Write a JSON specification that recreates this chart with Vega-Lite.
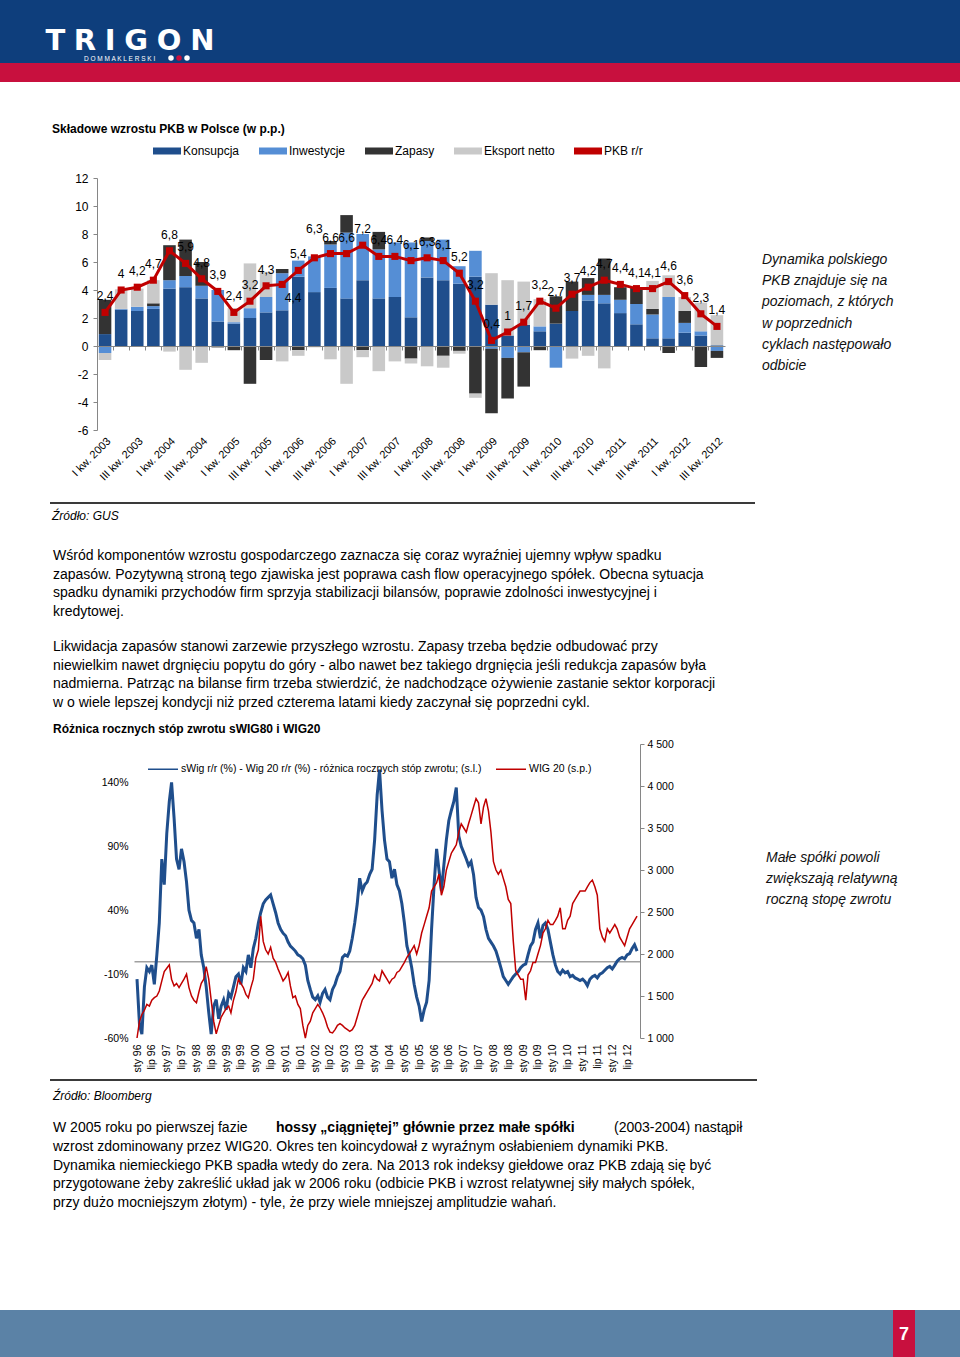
{
  "$schema": "https://vega.github.io/schema/vega-lite/v6.json",
  "background": "white",
  "padding": 0,
  "spacing": 0,
  "bounds": "flush",
  "resolve": {"scale": {"color": "independent", "x": "independent", "y": "independent"}, "legend": {"color": "independent"}},
  "config": {
    "view": {"stroke": null},
    "font": "Liberation Sans",
    "concat": {"spacing": 0},
    "locale": {"number": {"decimal": ",", "thousands": " ", "grouping": [3], "currency": ["", ""], "minus": "-"}},
    "axis": {"labelFont": "Liberation Sans", "labelColor": "#000000", "grid": false, "labelOverlap": false},
    "legend": {"labelFont": "Liberation Sans", "labelColor": "#000000", "padding": 0},
    "text": {"font": "Liberation Sans", "color": "#000000"}
  },
  "vconcat": [
    {
      "width": 960, "height": 63,
      "view": {"fill": "#0e3e7c", "stroke": null},
      "data": {"values": [{}]},
      "layer": [
        {"mark": {"type": "text", "text": "T", "x": 55.3, "y": 50, "fontSize": 29, "font": "DejaVu Sans", "fontWeight": "bold", "color": "#ffffff", "align": "center", "baseline": "alphabetic"}},
        {"mark": {"type": "text", "text": "R", "x": 85, "y": 50, "fontSize": 29, "font": "DejaVu Sans", "fontWeight": "bold", "color": "#ffffff", "align": "center", "baseline": "alphabetic"}},
        {"mark": {"type": "text", "text": "I", "x": 110.2, "y": 50, "fontSize": 29, "font": "DejaVu Sans", "fontWeight": "bold", "color": "#ffffff", "align": "center", "baseline": "alphabetic"}},
        {"mark": {"type": "text", "text": "G", "x": 136.1, "y": 50, "fontSize": 29, "font": "DejaVu Sans", "fontWeight": "bold", "color": "#ffffff", "align": "center", "baseline": "alphabetic"}},
        {"mark": {"type": "text", "text": "O", "x": 169.2, "y": 50, "fontSize": 29, "font": "DejaVu Sans", "fontWeight": "bold", "color": "#ffffff", "align": "center", "baseline": "alphabetic"}},
        {"mark": {"type": "text", "text": "N", "x": 202.5, "y": 50, "fontSize": 29, "font": "DejaVu Sans", "fontWeight": "bold", "color": "#ffffff", "align": "center", "baseline": "alphabetic"}},
        {"mark": {"type": "text", "text": "D O M   M A K L E R S K I", "x": 84, "y": 59, "fontSize": 6.5, "color": "#ffffff", "align": "left", "baseline": "middle"}},
        {"mark": {"type": "point", "shape": "circle", "filled": true, "size": 30, "opacity": 1, "x": 171, "y": 58, "color": "#ffffff"}, "encoding": {}},
        {"mark": {"type": "point", "shape": "circle", "filled": true, "size": 30, "opacity": 1, "x": 179, "y": 58, "color": "#c8103e"}, "encoding": {}},
        {"mark": {"type": "point", "shape": "circle", "filled": true, "size": 30, "opacity": 1, "x": 187, "y": 58, "color": "#ffffff"}, "encoding": {}}
      ]
    },
    {
      "width": 960, "height": 19,
      "view": {"fill": "#c8103e", "stroke": null},
      "data": {"values": []},
      "mark": "point"
    },
    {
      "width": 960, "height": 96,
      "data": {"values": [{"t": "Składowe wzrostu PKB w Polsce (w p.p.)"}]},
      "mark": {"type": "text", "align": "left", "baseline": "middle", "fontSize": 12, "fontWeight": "bold"},
      "encoding": {"x": {"value": 52}, "y": {"value": 47}, "text": {"field": "t", "type": "nominal"}}
    },
    {
      "width": 960, "height": 252,
      "layer": [
        {
          "data": {"values": [
            {"q": "I kw. 2003", "Konsupcja": 0.85, "Inwestycje": -0.5, "Zapasy": 2.45, "Eksport netto": -0.5, "PKB": 2.4},
            {"q": "II kw. 2003", "Konsupcja": 2.6, "Inwestycje": 0.05, "Zapasy": -0.05, "Eksport netto": 1.4, "PKB": 4.0},
            {"q": "III kw. 2003", "Konsupcja": 2.5, "Inwestycje": 0.3, "Zapasy": -0.05, "Eksport netto": 1.3, "PKB": 4.2},
            {"q": "IV kw. 2003", "Konsupcja": 2.65, "Inwestycje": 0.2, "Zapasy": 0.2, "Eksport netto": 1.65, "PKB": 4.7},
            {"q": "I kw. 2004", "Konsupcja": 4.1, "Inwestycje": 0.6, "Zapasy": 2.5, "Eksport netto": -0.4, "PKB": 6.8},
            {"q": "II kw. 2004", "Konsupcja": 4.2, "Inwestycje": 0.8, "Zapasy": 2.6, "Eksport netto": -1.7, "PKB": 5.9},
            {"q": "III kw. 2004", "Konsupcja": 3.4, "Inwestycje": 0.9, "Zapasy": 1.7, "Eksport netto": -1.2, "PKB": 4.8},
            {"q": "IV kw. 2004", "Konsupcja": 1.75, "Inwestycje": 2.25, "Zapasy": -0.1, "Eksport netto": 0, "PKB": 3.9},
            {"q": "I kw. 2005", "Konsupcja": 1.6, "Inwestycje": 0.1, "Zapasy": -0.3, "Eksport netto": 1.0, "PKB": 2.4},
            {"q": "II kw. 2005", "Konsupcja": 2.0, "Inwestycje": 0.7, "Zapasy": -2.7, "Eksport netto": 3.2, "PKB": 3.2},
            {"q": "III kw. 2005", "Konsupcja": 2.4, "Inwestycje": 1.1, "Zapasy": -1.0, "Eksport netto": 1.8, "PKB": 4.3},
            {"q": "IV kw. 2005", "Konsupcja": 2.55, "Inwestycje": 2.65, "Zapasy": 0.3, "Eksport netto": -1.1, "PKB": 4.4},
            {"q": "I kw. 2006", "Konsupcja": 4.95, "Inwestycje": 1.15, "Zapasy": -0.3, "Eksport netto": -0.4, "PKB": 5.4},
            {"q": "II kw. 2006", "Konsupcja": 3.85, "Inwestycje": 2.55, "Zapasy": 0, "Eksport netto": -0.1, "PKB": 6.3},
            {"q": "III kw. 2006", "Konsupcja": 4.15, "Inwestycje": 3.1, "Zapasy": 0.25, "Eksport netto": -0.95, "PKB": 6.6},
            {"q": "IV kw. 2006", "Konsupcja": 3.4, "Inwestycje": 4.7, "Zapasy": 1.25, "Eksport netto": -2.7, "PKB": 6.6},
            {"q": "I kw. 2007", "Konsupcja": 4.7, "Inwestycje": 3.3, "Zapasy": -0.3, "Eksport netto": -0.5, "PKB": 7.2},
            {"q": "II kw. 2007", "Konsupcja": 3.4, "Inwestycje": 3.5, "Zapasy": 1.25, "Eksport netto": -1.8, "PKB": 6.4},
            {"q": "III kw. 2007", "Konsupcja": 3.5, "Inwestycje": 3.9, "Zapasy": 0, "Eksport netto": -1.1, "PKB": 6.4},
            {"q": "IV kw. 2007", "Konsupcja": 2.05, "Inwestycje": 5.35, "Zapasy": -0.9, "Eksport netto": -0.35, "PKB": 6.1},
            {"q": "I kw. 2008", "Konsupcja": 4.9, "Inwestycje": 2.6, "Zapasy": 0.25, "Eksport netto": -1.45, "PKB": 6.3},
            {"q": "II kw. 2008", "Konsupcja": 4.7, "Inwestycje": 2.9, "Zapasy": -0.7, "Eksport netto": -0.85, "PKB": 6.1},
            {"q": "III kw. 2008", "Konsupcja": 4.45, "Inwestycje": 1.25, "Zapasy": -0.35, "Eksport netto": -0.2, "PKB": 5.2},
            {"q": "IV kw. 2008", "Konsupcja": 4.95, "Inwestycje": 1.85, "Zapasy": -3.4, "Eksport netto": -0.3, "PKB": 3.2},
            {"q": "I kw. 2009", "Konsupcja": 2.95, "Inwestycje": -0.2, "Zapasy": -4.6, "Eksport netto": 2.25, "PKB": 0.4},
            {"q": "II kw. 2009", "Konsupcja": 0.75, "Inwestycje": -0.85, "Zapasy": -2.9, "Eksport netto": 3.95, "PKB": 1.0},
            {"q": "III kw. 2009", "Konsupcja": 1.5, "Inwestycje": -0.45, "Zapasy": -2.45, "Eksport netto": 3.1, "PKB": 1.7},
            {"q": "IV kw. 2009", "Konsupcja": 1.05, "Inwestycje": 0.35, "Zapasy": -0.3, "Eksport netto": 1.95, "PKB": 3.2},
            {"q": "I kw. 2010", "Konsupcja": 1.6, "Inwestycje": -1.55, "Zapasy": 1.95, "Eksport netto": 0, "PKB": 2.7},
            {"q": "II kw. 2010", "Konsupcja": 2.5, "Inwestycje": 0, "Zapasy": 2.1, "Eksport netto": -0.9, "PKB": 3.7},
            {"q": "III kw. 2010", "Konsupcja": 3.25, "Inwestycje": 0.4, "Zapasy": 1.2, "Eksport netto": -0.7, "PKB": 4.2},
            {"q": "IV kw. 2010", "Konsupcja": 3.05, "Inwestycje": 0.6, "Zapasy": 2.6, "Eksport netto": -1.6, "PKB": 4.7},
            {"q": "I kw. 2011", "Konsupcja": 2.35, "Inwestycje": 0.95, "Zapasy": 0.9, "Eksport netto": 0, "PKB": 4.4},
            {"q": "II kw. 2011", "Konsupcja": 1.55, "Inwestycje": 1.45, "Zapasy": 1.2, "Eksport netto": 0, "PKB": 4.1},
            {"q": "III kw. 2011", "Konsupcja": 0.55, "Inwestycje": 1.7, "Zapasy": 0.4, "Eksport netto": 2.0, "PKB": 4.1},
            {"q": "IV kw. 2011", "Konsupcja": 0.55, "Inwestycje": 2.95, "Zapasy": -0.5, "Eksport netto": 1.55, "PKB": 4.6},
            {"q": "I kw. 2012", "Konsupcja": 0.95, "Inwestycje": 0.7, "Zapasy": 0.85, "Eksport netto": 1.0, "PKB": 3.6},
            {"q": "II kw. 2012", "Konsupcja": 0.75, "Inwestycje": 0.3, "Zapasy": -1.5, "Eksport netto": 2.05, "PKB": 2.3},
            {"q": "III kw. 2012", "Konsupcja": 0.05, "Inwestycje": -0.35, "Zapasy": -0.5, "Eksport netto": 2.15, "PKB": 1.4}
          ]},
          "layer": [
            {
              "transform": [{"fold": ["Konsupcja", "Inwestycje", "Zapasy", "Eksport netto"], "as": ["component", "value"]}],
              "mark": {"type": "bar"},
              "encoding": {
                "x": {"field": "q", "type": "ordinal", "sort": null, "title": null,
                  "scale": {"range": [97, 725], "paddingInner": 0.22, "paddingOuter": 0.11,
                    "domain": ["I kw. 2003","II kw. 2003","III kw. 2003","IV kw. 2003","I kw. 2004","II kw. 2004","III kw. 2004","IV kw. 2004","I kw. 2005","II kw. 2005","III kw. 2005","IV kw. 2005","I kw. 2006","II kw. 2006","III kw. 2006","IV kw. 2006","I kw. 2007","II kw. 2007","III kw. 2007","IV kw. 2007","I kw. 2008","II kw. 2008","III kw. 2008","IV kw. 2008","I kw. 2009","II kw. 2009","III kw. 2009","IV kw. 2009","I kw. 2010","II kw. 2010","III kw. 2010","IV kw. 2010","I kw. 2011","II kw. 2011","III kw. 2011","IV kw. 2011","I kw. 2012","II kw. 2012","III kw. 2012"]},
                  "axis": {"values": ["I kw. 2003","III kw. 2003","I kw. 2004","III kw. 2004","I kw. 2005","III kw. 2005","I kw. 2006","III kw. 2006","I kw. 2007","III kw. 2007","I kw. 2008","III kw. 2008","I kw. 2009","III kw. 2009","I kw. 2010","III kw. 2010","I kw. 2011","III kw. 2011","I kw. 2012","III kw. 2012"],
                    "labelAngle": -45, "labelFontSize": 11, "domain": false, "ticks": false, "labelPadding": 5, "labelOverlap": false}},
                "y": {"field": "value", "type": "quantitative", "stack": "zero", "title": null,
                  "scale": {"domain": [-6, 12], "nice": false},
                  "axis": {"values": [-6, -4, -2, 0, 2, 4, 6, 8, 10, 12], "offset": -97, "labelFontSize": 12, "labelOverlap": false, "labelFlush": false, "domainColor": "#868686", "tickColor": "#868686", "tickSize": 4, "labelPadding": 5}},
                "color": {"field": "component", "type": "nominal",
                  "scale": {"domain": ["Konsupcja", "Inwestycje", "Zapasy", "Eksport netto", "PKB r/r"], "range": ["#1f4e8c", "#558ed5", "#333333", "#c9c9c9", "#c00000"]},
                  "legend": {"orient": "none", "direction": "horizontal", "legendX": 161, "legendY": -33, "title": null,
                    "symbolType": "M-4,-1H4V1H-4Z", "symbolSize": 49, "symbolStrokeWidth": 0, "labelFontSize": 12, "labelOffset": 10, "columnPadding": 19, "labelLimit": 300,
                    "encoding": {"symbols": {"update": {"shape": {"signal": "datum.value === 'PKB r/r' ? 'M-4.6,-0.3H4.6V0.3H-4.6Z M-1,-1H1V1H-1Z' : 'M-4,-1H4V1H-4Z'"}, "strokeWidth": {"value": 0}}}}}},
                "order": {"field": "q", "type": "ordinal"}
              }
            },
            {
              "mark": {"type": "line", "strokeWidth": 3},
              "encoding": {
                "x": {"field": "q", "type": "ordinal", "sort": null, "title": null,
                  "axis": {"orient": "bottom", "offset": -84, "labels": false, "domain": true, "domainColor": "#868686", "ticks": true, "tickSize": 4, "tickColor": "#868686", "bandPosition": -0.14, "zindex": 1}},
                "y": {"field": "PKB", "type": "quantitative", "axis": null},
                "color": {"datum": "PKB r/r"}
              }
            },
            {
              "mark": {"type": "square", "size": 50, "opacity": 1, "color": "#c00000", "filled": true},
              "encoding": {
                "x": {"field": "q", "type": "ordinal", "sort": null, "axis": null},
                "y": {"field": "PKB", "type": "quantitative", "axis": null}
              }
            },
            {
              "transform": [{"filter": "datum.q !== 'IV kw. 2005' && datum.q !== 'II kw. 2006'"}],
              "mark": {"type": "text", "dy": -16, "fontSize": 12, "color": "#000000"},
              "encoding": {
                "x": {"field": "q", "type": "ordinal", "sort": null, "axis": null},
                "y": {"field": "PKB", "type": "quantitative", "axis": null},
                "text": {"field": "PKB", "type": "quantitative", "format": ".2~r"}
              }
            },
            {
              "transform": [{"filter": "datum.q === 'IV kw. 2005'"}],
              "mark": {"type": "text", "dx": 11, "dy": 14, "fontSize": 12, "color": "#000000"},
              "encoding": {
                "x": {"field": "q", "type": "ordinal", "sort": null, "axis": null},
                "y": {"field": "PKB", "type": "quantitative", "axis": null},
                "text": {"field": "PKB", "type": "quantitative", "format": ".2~r"}
              }
            },
            {
              "transform": [{"filter": "datum.q === 'II kw. 2006'"}],
              "mark": {"type": "text", "dy": -29, "fontSize": 12, "color": "#000000"},
              "encoding": {
                "x": {"field": "q", "type": "ordinal", "sort": null, "axis": null},
                "y": {"field": "PKB", "type": "quantitative", "axis": null},
                "text": {"field": "PKB", "type": "quantitative", "format": ".2~r"}
              }
            }
          ],
          "resolve": {"axis": {"x": "independent", "y": "independent"}}
        },
        {
          "data": {"values": [{"lines": ["Dynamika polskiego", "PKB znajduje się na", "poziomach, z których", "w poprzednich", "cyklach następowało", "odbicie"]}]},
          "mark": {"type": "text", "align": "left", "baseline": "top", "fontSize": 14, "fontStyle": "italic", "lineHeight": 21.2, "color": "#111111"},
          "encoding": {"x": {"value": 762}, "y": {"value": 75}, "text": {"field": "lines", "type": "nominal"}}
        }
      ],
      "resolve": {"scale": {"y": "independent", "x": "independent"}}
    },
    {
      "width": 960, "height": 314,
      "layer": [
        {
          "data": {"values": [{}]},
          "mark": {"type": "rule", "color": "#3a3a3a", "strokeWidth": 2},
          "encoding": {"x": {"value": 50}, "x2": {"value": 755}, "y": {"value": 73}}
        },
        {
          "data": {"values": [{"t": "Źródło: GUS"}]},
          "mark": {"type": "text", "align": "left", "baseline": "middle", "fontSize": 12, "fontStyle": "italic"},
          "encoding": {"x": {"value": 52}, "y": {"value": 86}, "text": {"field": "t", "type": "nominal"}}
        },
        {
          "data": {"values": [{"lines": [
            "Wśród komponentów wzrostu gospodarczego zaznacza się coraz wyraźniej ujemny wpływ spadku",
            "zapasów. Pozytywną stroną tego zjawiska jest poprawa cash flow operacyjnego spółek. Obecna sytuacja",
            "spadku dynamiki przychodów firm sprzyja stabilizacji bilansów, poprawie zdolności inwestycyjnej i",
            "kredytowej."]}]},
          "mark": {"type": "text", "align": "left", "baseline": "top", "fontSize": 14, "lineHeight": 18.7},
          "encoding": {"x": {"value": 53}, "y": {"value": 119}, "text": {"field": "lines", "type": "nominal"}}
        },
        {
          "data": {"values": [{"lines": [
            "Likwidacja zapasów stanowi zarzewie przyszłego wzrostu. Zapasy trzeba będzie odbudować przy",
            "niewielkim nawet drgnięciu popytu do góry - albo nawet bez takiego drgnięcia jeśli redukcja zapasów była",
            "nadmierna. Patrząc na bilanse firm trzeba stwierdzić, że nadchodzące ożywienie zastanie sektor korporacji",
            "w o wiele lepszej kondycji niż przed czterema latami kiedy zaczynał się poprzedni cykl."]}]},
          "mark": {"type": "text", "align": "left", "baseline": "top", "fontSize": 14, "lineHeight": 18.7},
          "encoding": {"x": {"value": 53}, "y": {"value": 210}, "text": {"field": "lines", "type": "nominal"}}
        },
        {
          "data": {"values": [{"t": "Różnica rocznych stóp zwrotu sWIG80 i WIG20"}]},
          "mark": {"type": "text", "align": "left", "baseline": "middle", "fontSize": 12, "fontWeight": "bold"},
          "encoding": {"x": {"value": 53}, "y": {"value": 299}, "text": {"field": "t", "type": "nominal"}}
        }
      ]
    },
    {
      "width": 960, "height": 294,
      "layer": [
        {
          "data": {"values": [
            {"date":"1996-01-01","diff":-14,"wig20":1000},{"date":"1996-02-01","diff":-50,"wig20":1200},{"date":"1996-03-01","diff":-57,"wig20":1280},{"date":"1996-04-01","diff":-20,"wig20":1330},{"date":"1996-05-01","diff":-5,"wig20":1400},{"date":"1996-06-01","diff":-8,"wig20":1380},
            {"date":"1996-07-01","diff":-3,"wig20":1450},{"date":"1996-08-01","diff":-18,"wig20":1480},{"date":"1996-09-01","diff":5,"wig20":1500},{"date":"1996-10-01","diff":30,"wig20":1560},{"date":"1996-11-01","diff":80,"wig20":1680},{"date":"1996-12-01","diff":60,"wig20":1790},
            {"date":"1997-01-01","diff":100,"wig20":1830},{"date":"1997-02-01","diff":125,"wig20":1870},{"date":"1997-03-01","diff":140,"wig20":1700},{"date":"1997-04-01","diff":112,"wig20":1620},{"date":"1997-05-01","diff":80,"wig20":1650},{"date":"1997-06-01","diff":72,"wig20":1600},
            {"date":"1997-07-01","diff":88,"wig20":1650},{"date":"1997-08-01","diff":78,"wig20":1700},{"date":"1997-09-01","diff":62,"wig20":1760},{"date":"1997-10-01","diff":40,"wig20":1600},{"date":"1997-11-01","diff":32,"wig20":1500},{"date":"1997-12-01","diff":30,"wig20":1450},
            {"date":"1998-01-01","diff":18,"wig20":1420},{"date":"1998-02-01","diff":25,"wig20":1550},{"date":"1998-03-01","diff":5,"wig20":1650},{"date":"1998-04-01","diff":-5,"wig20":1700},{"date":"1998-05-01","diff":-20,"wig20":1850},{"date":"1998-06-01","diff":-40,"wig20":1700},
            {"date":"1998-07-01","diff":-57,"wig20":1450},{"date":"1998-08-01","diff":-35,"wig20":1200},{"date":"1998-09-01","diff":-30,"wig20":1050},{"date":"1998-10-01","diff":-45,"wig20":1150},{"date":"1998-11-01","diff":-35,"wig20":1250},{"date":"1998-12-01","diff":-30,"wig20":1300},
            {"date":"1999-01-01","diff":-38,"wig20":1350},{"date":"1999-02-01","diff":-25,"wig20":1380},{"date":"1999-03-01","diff":-28,"wig20":1300},{"date":"1999-04-01","diff":-20,"wig20":1450},{"date":"1999-05-01","diff":-12,"wig20":1550},{"date":"1999-06-01","diff":-10,"wig20":1700},
            {"date":"1999-07-01","diff":-18,"wig20":1650},{"date":"1999-08-01","diff":-5,"wig20":1600},{"date":"1999-09-01","diff":-8,"wig20":1520},{"date":"1999-10-01","diff":5,"wig20":1480},{"date":"1999-11-01","diff":-5,"wig20":1600},{"date":"1999-12-01","diff":10,"wig20":1700},
            {"date":"2000-01-01","diff":18,"wig20":1950},{"date":"2000-02-01","diff":30,"wig20":2050},{"date":"2000-03-01","diff":38,"wig20":2450},{"date":"2000-04-01","diff":45,"wig20":2150},{"date":"2000-05-01","diff":48,"wig20":2050},{"date":"2000-06-01","diff":50,"wig20":2000},
            {"date":"2000-07-01","diff":52,"wig20":2080},{"date":"2000-08-01","diff":45,"wig20":1950},{"date":"2000-09-01","diff":38,"wig20":1900},{"date":"2000-10-01","diff":30,"wig20":1820},{"date":"2000-11-01","diff":25,"wig20":1750},{"date":"2000-12-01","diff":22,"wig20":1680},
            {"date":"2001-01-01","diff":20,"wig20":1720},{"date":"2001-02-01","diff":15,"wig20":1780},{"date":"2001-03-01","diff":12,"wig20":1620},{"date":"2001-04-01","diff":10,"wig20":1480},{"date":"2001-05-01","diff":8,"wig20":1500},{"date":"2001-06-01","diff":5,"wig20":1400},
            {"date":"2001-07-01","diff":4,"wig20":1350},{"date":"2001-08-01","diff":2,"wig20":1150},{"date":"2001-09-01","diff":-3,"wig20":1000},{"date":"2001-10-01","diff":-15,"wig20":1150},{"date":"2001-11-01","diff":-22,"wig20":1200},{"date":"2001-12-01","diff":-28,"wig20":1300},
            {"date":"2002-01-01","diff":-30,"wig20":1350},{"date":"2002-02-01","diff":-27,"wig20":1400},{"date":"2002-03-01","diff":-32,"wig20":1360},{"date":"2002-04-01","diff":-25,"wig20":1300},{"date":"2002-05-01","diff":-22,"wig20":1230},{"date":"2002-06-01","diff":-28,"wig20":1130},
            {"date":"2002-07-01","diff":-30,"wig20":1070},{"date":"2002-08-01","diff":-22,"wig20":1060},{"date":"2002-09-01","diff":-18,"wig20":1100},{"date":"2002-10-01","diff":-12,"wig20":1150},{"date":"2002-11-01","diff":-8,"wig20":1170},{"date":"2002-12-01","diff":3,"wig20":1150},
            {"date":"2003-01-01","diff":5,"wig20":1120},{"date":"2003-02-01","diff":4,"wig20":1100},{"date":"2003-03-01","diff":8,"wig20":1080},{"date":"2003-04-01","diff":18,"wig20":1100},{"date":"2003-05-01","diff":30,"wig20":1150},{"date":"2003-06-01","diff":45,"wig20":1250},
            {"date":"2003-07-01","diff":65,"wig20":1350},{"date":"2003-08-01","diff":55,"wig20":1450},{"date":"2003-09-01","diff":60,"wig20":1500},{"date":"2003-10-01","diff":62,"wig20":1550},{"date":"2003-11-01","diff":68,"wig20":1600},{"date":"2003-12-01","diff":72,"wig20":1650},
            {"date":"2004-01-01","diff":95,"wig20":1750},{"date":"2004-02-01","diff":130,"wig20":1700},{"date":"2004-03-01","diff":150,"wig20":1680},{"date":"2004-04-01","diff":118,"wig20":1800},{"date":"2004-05-01","diff":95,"wig20":1750},{"date":"2004-06-01","diff":80,"wig20":1700},
            {"date":"2004-07-01","diff":78,"wig20":1650},{"date":"2004-08-01","diff":65,"wig20":1700},{"date":"2004-09-01","diff":72,"wig20":1720},{"date":"2004-10-01","diff":60,"wig20":1780},{"date":"2004-11-01","diff":55,"wig20":1800},{"date":"2004-12-01","diff":45,"wig20":1850},
            {"date":"2005-01-01","diff":30,"wig20":1900},{"date":"2005-02-01","diff":12,"wig20":1960},{"date":"2005-03-01","diff":5,"wig20":2000},{"date":"2005-04-01","diff":-5,"wig20":2050},{"date":"2005-05-01","diff":-18,"wig20":2100},{"date":"2005-06-01","diff":-28,"wig20":2000},
            {"date":"2005-07-01","diff":-35,"wig20":2100},{"date":"2005-08-01","diff":-47,"wig20":2250},{"date":"2005-09-01","diff":-38,"wig20":2350},{"date":"2005-10-01","diff":-32,"wig20":2450},{"date":"2005-11-01","diff":-15,"wig20":2550},{"date":"2005-12-01","diff":25,"wig20":2750},
            {"date":"2006-01-01","diff":60,"wig20":2800},{"date":"2006-02-01","diff":88,"wig20":2850},{"date":"2006-03-01","diff":72,"wig20":2950},{"date":"2006-04-01","diff":55,"wig20":2700},{"date":"2006-05-01","diff":75,"wig20":2800},{"date":"2006-06-01","diff":95,"wig20":3000},
            {"date":"2006-07-01","diff":110,"wig20":3100},{"date":"2006-08-01","diff":118,"wig20":3200},{"date":"2006-09-01","diff":125,"wig20":3250},{"date":"2006-10-01","diff":136,"wig20":3300},{"date":"2006-11-01","diff":98,"wig20":3450},{"date":"2006-12-01","diff":90,"wig20":3550},
            {"date":"2007-01-01","diff":85,"wig20":3500},{"date":"2007-02-01","diff":80,"wig20":3450},{"date":"2007-03-01","diff":75,"wig20":3550},{"date":"2007-04-01","diff":78,"wig20":3650},{"date":"2007-05-01","diff":68,"wig20":3750},{"date":"2007-06-01","diff":50,"wig20":3850},
            {"date":"2007-07-01","diff":42,"wig20":3800},{"date":"2007-08-01","diff":40,"wig20":3550},{"date":"2007-09-01","diff":35,"wig20":3750},{"date":"2007-10-01","diff":25,"wig20":3850},{"date":"2007-11-01","diff":18,"wig20":3700},{"date":"2007-12-01","diff":15,"wig20":3450},
            {"date":"2008-01-01","diff":12,"wig20":3100},{"date":"2008-02-01","diff":8,"wig20":3000},{"date":"2008-03-01","diff":2,"wig20":2950},{"date":"2008-04-01","diff":-5,"wig20":3000},{"date":"2008-05-01","diff":-12,"wig20":2900},{"date":"2008-06-01","diff":-15,"wig20":2800},
            {"date":"2008-07-01","diff":-18,"wig20":2650},{"date":"2008-08-01","diff":-15,"wig20":2600},{"date":"2008-09-01","diff":-12,"wig20":2150},{"date":"2008-10-01","diff":-10,"wig20":1800},{"date":"2008-11-01","diff":-8,"wig20":1750},{"date":"2008-12-01","diff":-5,"wig20":1700},
            {"date":"2009-01-01","diff":-3,"wig20":1700},{"date":"2009-02-01","diff":-2,"wig20":1450},{"date":"2009-03-01","diff":5,"wig20":1750},{"date":"2009-04-01","diff":12,"wig20":1800},{"date":"2009-05-01","diff":15,"wig20":1900},{"date":"2009-06-01","diff":25,"wig20":1900},
            {"date":"2009-07-01","diff":30,"wig20":2000},{"date":"2009-08-01","diff":18,"wig20":2100},{"date":"2009-09-01","diff":28,"wig20":2250},{"date":"2009-10-01","diff":30,"wig20":2300},{"date":"2009-11-01","diff":25,"wig20":2400},{"date":"2009-12-01","diff":15,"wig20":2350},
            {"date":"2010-01-01","diff":5,"wig20":2350},{"date":"2010-02-01","diff":-3,"wig20":2400},{"date":"2010-03-01","diff":-8,"wig20":2450},{"date":"2010-04-01","diff":-10,"wig20":2550},{"date":"2010-05-01","diff":-7,"wig20":2300},{"date":"2010-06-01","diff":-9,"wig20":2300},
            {"date":"2010-07-01","diff":-8,"wig20":2400},{"date":"2010-08-01","diff":-12,"wig20":2450},{"date":"2010-09-01","diff":-11,"wig20":2600},{"date":"2010-10-01","diff":-13,"wig20":2650},{"date":"2010-11-01","diff":-14,"wig20":2700},{"date":"2010-12-01","diff":-15,"wig20":2750},
            {"date":"2011-01-01","diff":-14,"wig20":2750},{"date":"2011-02-01","diff":-16,"wig20":2750},{"date":"2011-03-01","diff":-19,"wig20":2800},{"date":"2011-04-01","diff":-14,"wig20":2850},{"date":"2011-05-01","diff":-12,"wig20":2880},{"date":"2011-06-01","diff":-11,"wig20":2800},
            {"date":"2011-07-01","diff":-13,"wig20":2700},{"date":"2011-08-01","diff":-10,"wig20":2300},{"date":"2011-09-01","diff":-9,"wig20":2200},{"date":"2011-10-01","diff":-7,"wig20":2150},{"date":"2011-11-01","diff":-5,"wig20":2300},{"date":"2011-12-01","diff":-4,"wig20":2250},
            {"date":"2012-01-01","diff":-6,"wig20":2300},{"date":"2012-02-01","diff":-3,"wig20":2350},{"date":"2012-03-01","diff":0,"wig20":2300},{"date":"2012-04-01","diff":2,"wig20":2200},{"date":"2012-05-01","diff":3,"wig20":2150},{"date":"2012-06-01","diff":2,"wig20":2100},
            {"date":"2012-07-01","diff":5,"wig20":2200},{"date":"2012-08-01","diff":6,"wig20":2300},{"date":"2012-09-01","diff":10,"wig20":2350},{"date":"2012-10-01","diff":13,"wig20":2400},{"date":"2012-11-01","diff":8,"wig20":2450}
          ]},
          "layer": [
            {
              "mark": {"type": "line", "strokeWidth": 3},
              "encoding": {
                "x": {"field": "date", "type": "temporal", "title": null,
                  "scale": {"type": "utc", "domain": [{"year": 1995, "month": 11, "date": 25, "utc": true}, {"year": 2012, "month": 12, "date": 7, "utc": true}], "range": [134, 640]},
                  "axis": {"tickCount": {"interval": "month", "step": 6}, "labelExpr": "(utcmonth(datum.value) == 0 ? 'sty ' : 'lip ') + utcFormat(datum.value, '%y')",
                    "labelAngle": 270, "labelFontSize": 10.5, "domain": false, "ticks": false, "labelPadding": 6, "labelOverlap": false, "labelFlush": false}},
                "y": {"field": "diff", "type": "quantitative", "title": null,
                  "scale": {"domain": [-60, 170], "nice": false, "zero": false},
                  "axis": {"orient": "left", "offset": -134, "values": [-60, -10, 40, 90, 140], "labelExpr": "datum.value + '%'", "domain": false, "ticks": false, "labelFontSize": 10.5, "labelPadding": 6, "labelOverlap": false}},
                "color": {"datum": "sWig r/r (%) - Wig 20 r/r (%) - różnica rocznych stóp zwrotu; (s.l.)",
                  "scale": {"domain": ["sWig r/r (%) - Wig 20 r/r (%) - różnica rocznych stóp zwrotu; (s.l.)", "WIG 20 (s.p.)"], "range": ["#1f4e8c", "#c00000"]},
                  "legend": {"orient": "none", "direction": "horizontal", "legendX": 147, "legendY": 9, "title": null,
                    "symbolType": "stroke", "symbolSize": 900, "labelFontSize": 10.5, "labelOffset": 2, "columnPadding": 11, "labelLimit": 500,
                    "encoding": {"symbols": {"update": {"strokeWidth": {"signal": "datum.value === 'WIG 20 (s.p.)' ? 1.5 : 3.5"}}}}}}
              }
            },
            {
              "mark": {"type": "line", "strokeWidth": 1.5},
              "encoding": {
                "x": {"field": "date", "type": "temporal", "title": null,
                  "scale": {"type": "utc", "domain": [{"year": 1995, "month": 11, "date": 25, "utc": true}, {"year": 2012, "month": 12, "date": 7, "utc": true}], "range": [134, 640]},
                  "axis": {"orient": "bottom", "offset": -76.7, "labels": false, "ticks": false, "domain": true, "domainColor": "#a0a0a0", "domainWidth": 1.5}},
                "y": {"field": "wig20", "type": "quantitative", "title": null,
                  "scale": {"domain": [1000, 4500], "nice": false, "zero": false},
                  "axis": {"orient": "right", "offset": -320, "values": [1000, 1500, 2000, 2500, 3000, 3500, 4000, 4500], "format": ",.0f", "labelFontSize": 10.5, "labelOverlap": false, "domainColor": "#868686", "tickColor": "#868686", "tickSize": 4, "labelPadding": 3}},
                "color": {"datum": "WIG 20 (s.p.)"}
              }
            }
          ],
          "resolve": {"scale": {"y": "independent"}, "axis": {"x": "independent"}}
        },
        {
          "data": {"values": [{"lines": ["Małe spółki powoli", "zwiększają relatywną", "roczną stopę zwrotu"]}]},
          "mark": {"type": "text", "align": "left", "baseline": "top", "fontSize": 14, "fontStyle": "italic", "lineHeight": 21, "color": "#111111"},
          "encoding": {"x": {"value": 766}, "y": {"value": 107}, "text": {"field": "lines", "type": "nominal"}}
        }
      ],
      "resolve": {"scale": {"y": "independent", "x": "independent"}}
    },
    {
      "width": 960, "height": 272,
      "layer": [
        {
          "data": {"values": [{}]},
          "mark": {"type": "rule", "color": "#3a3a3a", "strokeWidth": 2},
          "encoding": {"x": {"value": 50}, "x2": {"value": 757}, "y": {"value": 42}}
        },
        {
          "data": {"values": [{"t": "Źródło: Bloomberg"}]},
          "mark": {"type": "text", "align": "left", "baseline": "middle", "fontSize": 12, "fontStyle": "italic"},
          "encoding": {"x": {"value": 53}, "y": {"value": 58}, "text": {"field": "t", "type": "nominal"}}
        },
        {
          "data": {"values": [{"t": "W 2005 roku po pierwszej fazie"}]},
          "mark": {"type": "text", "align": "left", "baseline": "middle", "fontSize": 14},
          "encoding": {"x": {"value": 53}, "y": {"value": 90}, "text": {"field": "t", "type": "nominal"}}
        },
        {
          "data": {"values": [{"t": "hossy „ciągniętej” głównie przez małe spółki"}]},
          "mark": {"type": "text", "align": "left", "baseline": "middle", "fontSize": 14, "fontWeight": "bold"},
          "encoding": {"x": {"value": 276}, "y": {"value": 90}, "text": {"field": "t", "type": "nominal"}}
        },
        {
          "data": {"values": [{"t": "(2003-2004) nastąpił"}]},
          "mark": {"type": "text", "align": "left", "baseline": "middle", "fontSize": 14},
          "encoding": {"x": {"value": 614}, "y": {"value": 90}, "text": {"field": "t", "type": "nominal"}}
        },
        {
          "data": {"values": [{"lines": [
            "wzrost zdominowany przez WIG20. Okres ten koincydował z wyraźnym osłabieniem dynamiki PKB.",
            "Dynamika niemieckiego PKB spadła wtedy do zera. Na 2013 rok indeksy giełdowe oraz PKB zdają się być",
            "przygotowane żeby zakreślić układ jak w 2006 roku (odbicie PKB i wzrost relatywnej siły małych spółek,",
            "przy dużo mocniejszym złotym) - tyle, że przy wiele mniejszej amplitudzie wahań."]}]},
          "mark": {"type": "text", "align": "left", "baseline": "top", "fontSize": 14, "lineHeight": 18.6},
          "encoding": {"x": {"value": 53}, "y": {"value": 102}, "text": {"field": "lines", "type": "nominal"}}
        }
      ]
    },
    {
      "width": 960, "height": 47,
      "view": {"fill": "#5b82a6", "stroke": null},
      "data": {"values": [{"page": "7"}]},
      "layer": [
        {
          "mark": {"type": "rect", "color": "#c8103e"},
          "encoding": {"x": {"value": 893}, "x2": {"value": 915}, "y": {"value": 0}, "y2": {"value": 47}}
        },
        {
          "mark": {"type": "text", "align": "center", "baseline": "middle", "fontSize": 18, "fontWeight": "bold", "color": "#ffffff"},
          "encoding": {"x": {"value": 904}, "y": {"value": 25}, "text": {"field": "page", "type": "nominal"}}
        }
      ]
    }
  ]
}
